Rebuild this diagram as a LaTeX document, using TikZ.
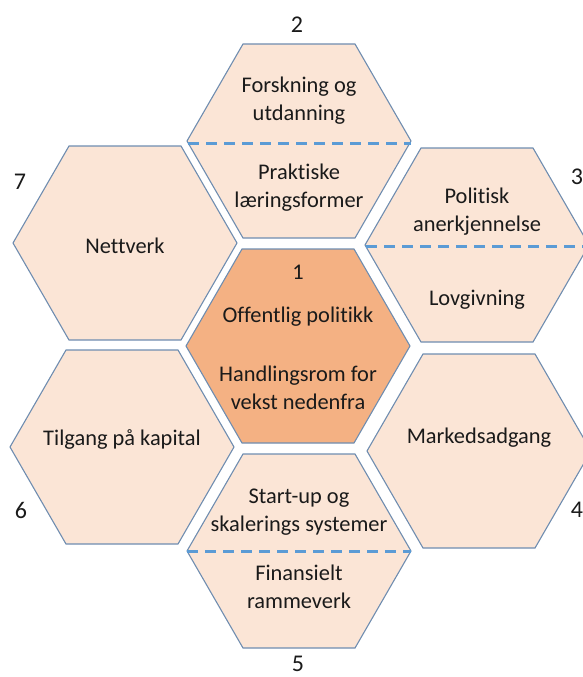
\documentclass[tikz,border=0pt]{standalone}
\usepackage{fontspec}
\setmainfont{Carlito}[Ligatures=NoCommon]
\definecolor{cellfill}{HTML}{FBE5D6}
\definecolor{corefill}{HTML}{F4B183}
\definecolor{cellline}{HTML}{6F8DB0}
\definecolor{splitline}{HTML}{5B9BD5}
\definecolor{inktext}{HTML}{1A1A1A}
\tikzset{
  cell/.style={fill=cellfill, draw=cellline, line width=1.1pt, line join=miter},
  core/.style={fill=corefill, draw=cellline, line width=1.1pt, line join=miter},
  split/.style={draw=splitline, line width=3pt, dash pattern=on 11pt off 7pt},
  label/.style={inner sep=0pt, align=center, anchor=base, text=inktext,
    font=\fontsize{22.4}{27.3}\selectfont},
  num/.style={inner sep=0pt, anchor=base, text=inktext,
    font=\fontsize{24}{28}\selectfont},
}
% one flat-topped hexagon around a named centre
\newcommand\hexcell[2]{\draw[#1] (#2) ++(112,0) -- ++(-56,-97) -- ++(-112,0)
  -- ++(-56,97) -- ++(56,97) -- ++(112,0) -- cycle;}
\begin{document}
\begin{tikzpicture}[x=1pt,y=-1pt]
\useasboundingbox (0,0) rectangle (583,677);
\clip (0,0) rectangle (583,677);

% cell centres
\coordinate (c1) at (298,346);
\coordinate (c2) at (299,141);
\coordinate (c3) at (477,245);
\coordinate (c4) at (479,451);
\coordinate (c5) at (299,551);
\coordinate (c6) at (122,447);
\coordinate (c7) at (125,243);

\hexcell{cell}{c2}
\hexcell{cell}{c3}
\hexcell{cell}{c4}
\hexcell{cell}{c5}
\hexcell{cell}{c6}
\hexcell{cell}{c7}
\hexcell{core}{c1}

% dashed dividers across split cells
\coordinate (s2a) at (188,143); \coordinate (s2b) at (411,143);
\coordinate (s3a) at (366,246); \coordinate (s3b) at (590,246);
\coordinate (s5a) at (187,551); \coordinate (s5b) at (411,551);
\draw[split] (s2a) -- (s2b);
\draw[split] (s3a) -- (s3b);
\draw[split] (s5a) -- (s5b);

% centre cell
\node[label] (t1n) at (298,279) {1};
\node[label] (t1a) at (298,322) {Offentlig politikk};
\node[label] (t1b) at (298,409) {Handlingsrom for\\vekst nedenfra};

% cell 2
\node[label] (t2a) at (299,120) {Forskning og\\utdanning};
\node[label] (t2b) at (299,207) {Praktiske\\læringsformer};

% cell 3
\node[label] (t3a) at (477,231) {Politisk\\anerkjennelse};
\node[label] (t3b) at (477,305) {Lovgivning};

% cell 4
\node[label] (t4) at (479,443) {Markedsadgang};

% cell 5
\node[label] (t5a) at (299,531) {Start-up og\\skalerings systemer};
\node[label] (t5b) at (299,608) {Finansielt\\rammeverk};

% cell 6
\node[label] (t6) at (122,445) {Tilgang på kapital};

% cell 7
\node[label] (t7) at (125,253) {Nettverk};

% outer numbers
\node[num] (n2) at (297,33) {2};
\node[num] (n3) at (577,184) {3};
\node[num] (n4) at (577,517) {4};
\node[num] (n5) at (298,671) {5};
\node[num] (n6) at (21,518) {6};
\node[num] (n7) at (20,189) {7};
\end{tikzpicture}
\end{document}
